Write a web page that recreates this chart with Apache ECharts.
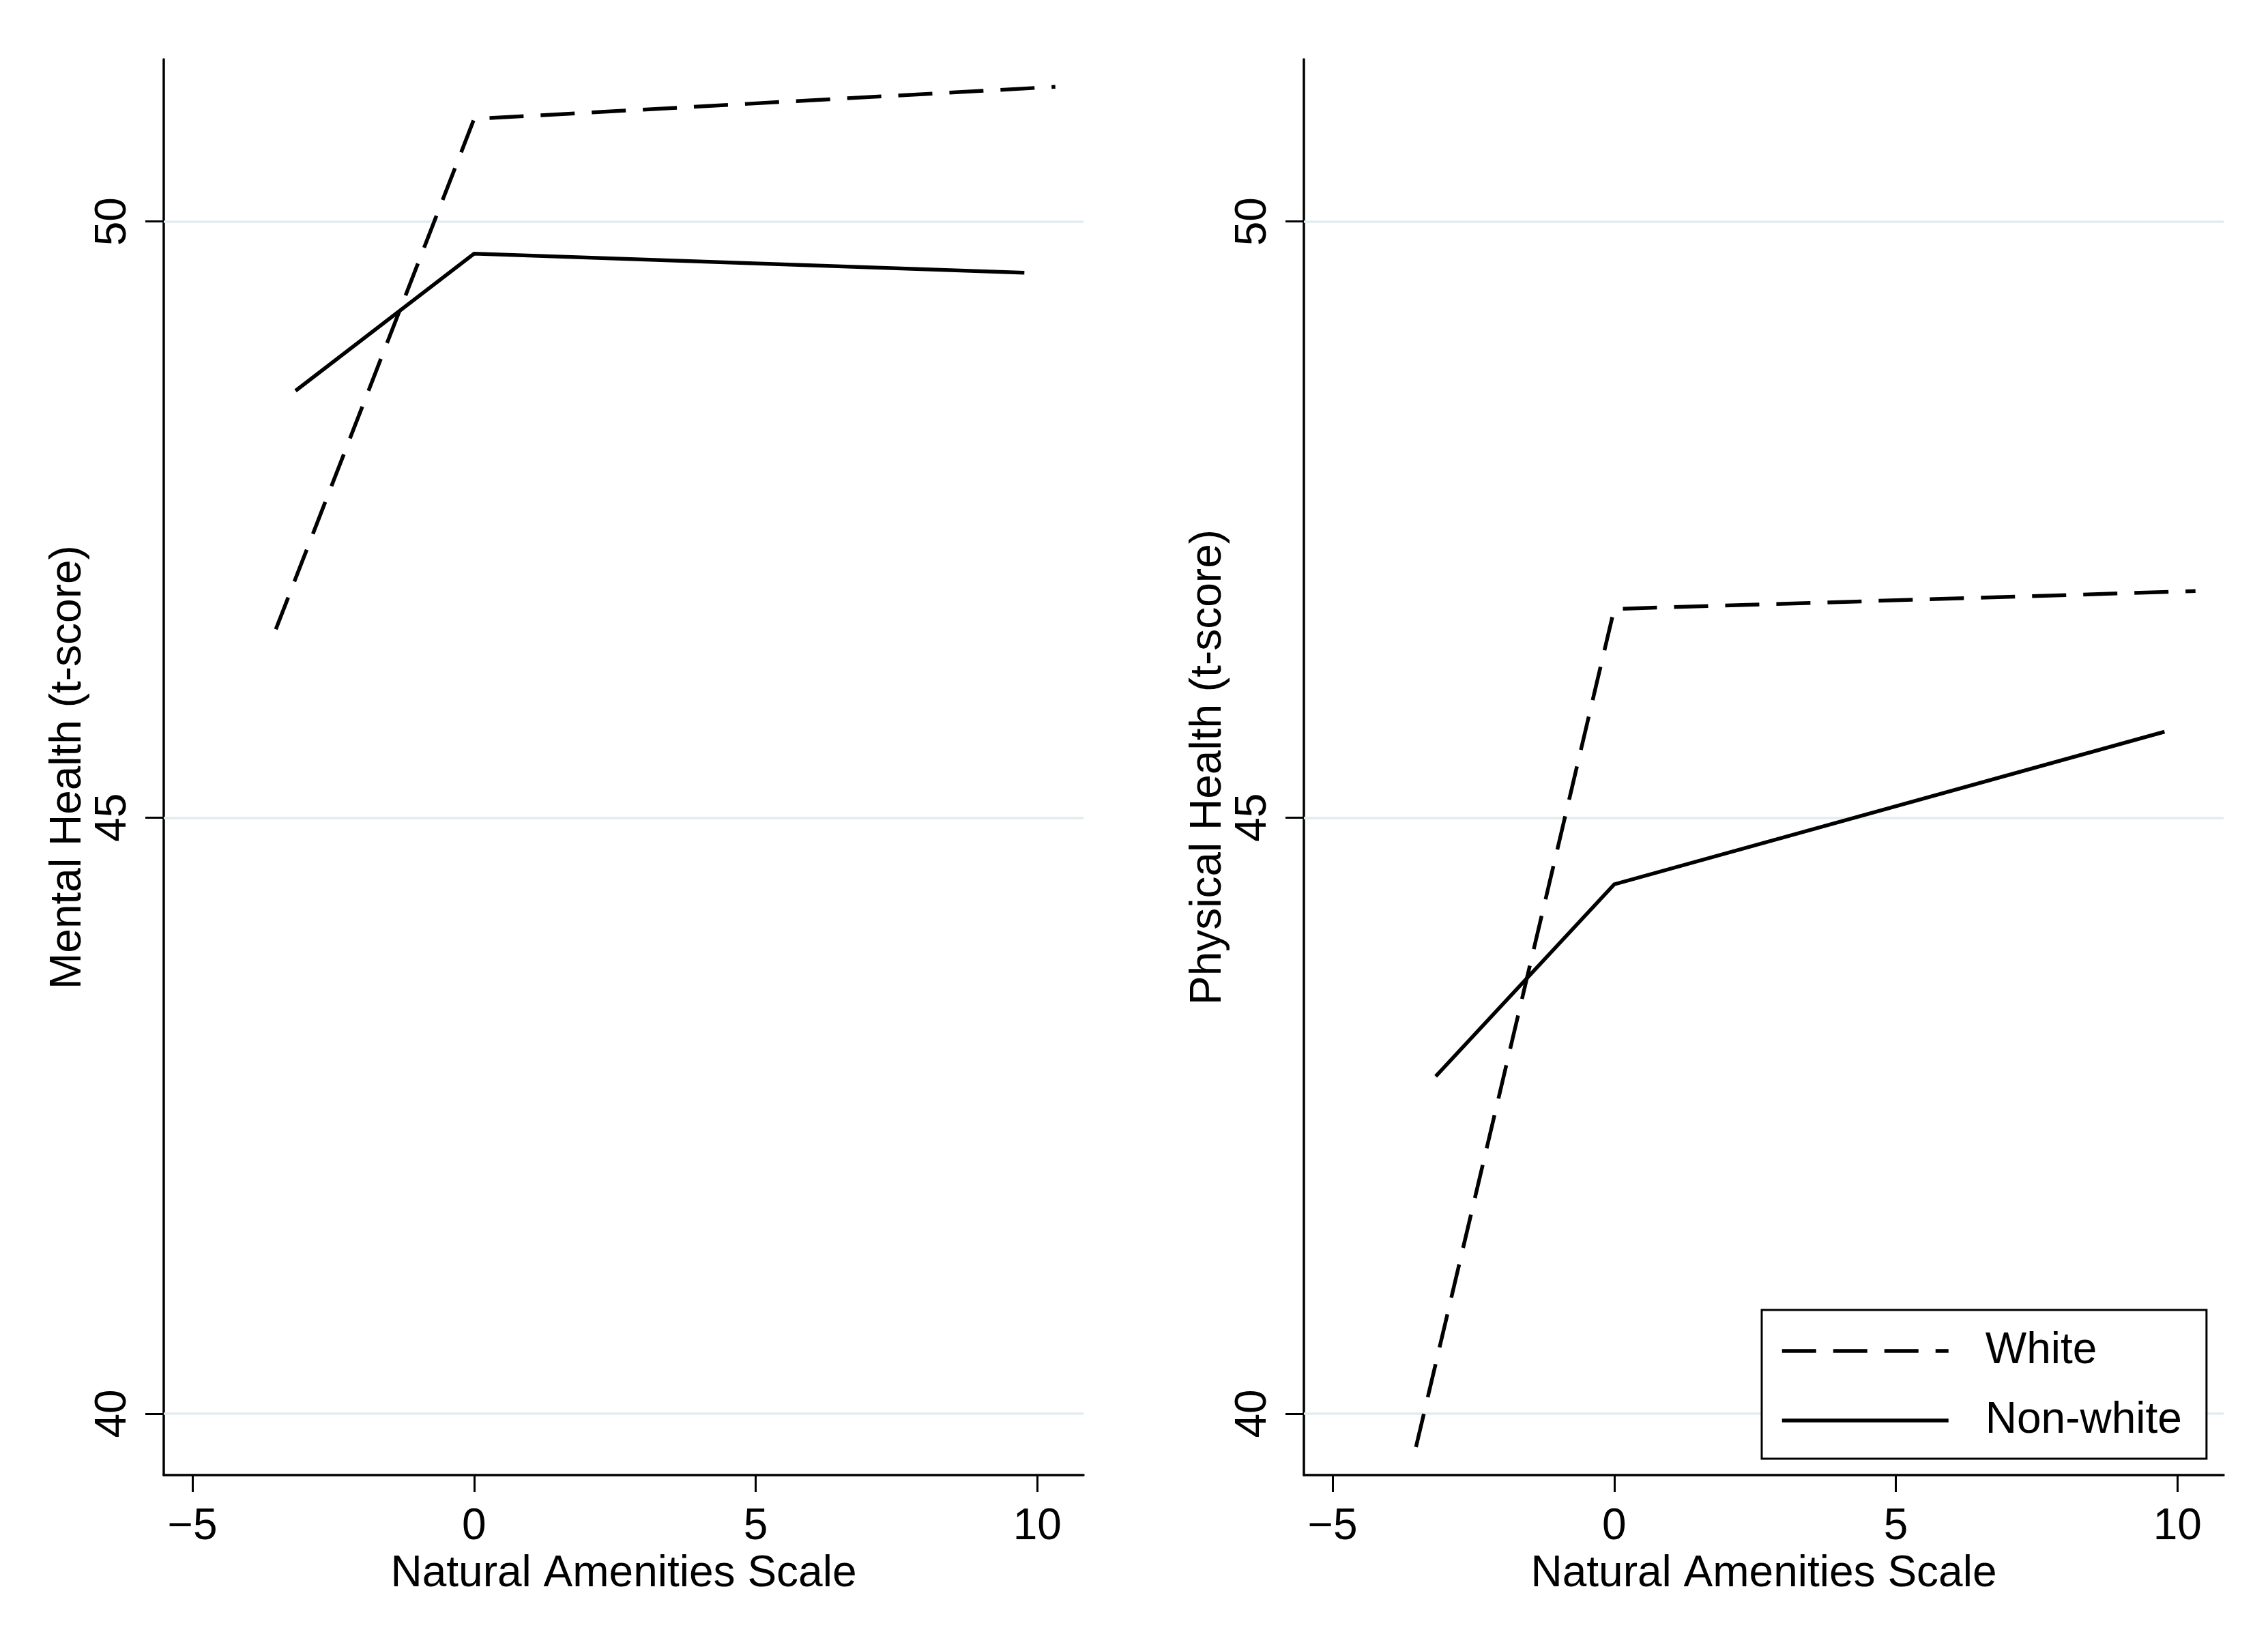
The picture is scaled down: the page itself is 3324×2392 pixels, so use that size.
<!DOCTYPE html>
<html><head><meta charset="utf-8">
<script src="https://cdn.jsdelivr.net/npm/echarts@6/dist/echarts.min.js"></script>
<style>html,body{margin:0;padding:0;background:#fff}#c{width:3324px;height:2392px}</style>
</head><body><div id="c"></div>
<script>
const seriesNames = ['White', 'Non-white'];
const whiteX = [-3.52, 0, 10.32];
const nonWhiteX = [-3.17, 0, 9.77];
const mentalWhite = [46.58, 50.86, 51.13];
const mentalNonWhite = [48.58, 49.73, 49.57];
const physicalWhite = [39.72, 46.75, 46.90];
const physicalNonWhite = [42.83, 44.44, 45.72];
const xTicks = [-5, 0, 5, 10];
const yTicks = [40, 45, 50];
const xTitle = 'Natural Amenities Scale';
const yTitles = ['Mental Health (t-score)', 'Physical Health (t-score)'];
const xRange = [-5.51, 10.82];
const yRange = [39.485, 51.36];

const FONT = 'Liberation Sans, Arial, sans-serif';
const FS = 64;
const LW = 5.5;
const pair = (xs, ys) => xs.map((x, i) => [x, ys[i]]);

function xAxis(idx) {
  return {
    type: 'value', gridIndex: idx, min: xRange[0], max: xRange[1],
    name: xTitle, nameLocation: 'middle', nameGap: 113,
    nameTextStyle: { fontFamily: FONT, fontSize: FS, color: '#000', lineHeight: FS },
    axisLine: { show: true, onZero: false, lineStyle: { color: '#000', width: 3.5 } },
    axisTick: { show: true, length: 25, lineStyle: { color: '#000', width: 3 }, customValues: xTicks },
    axisLabel: { fontFamily: FONT, fontSize: FS, color: '#000', margin: 44, lineHeight: FS, customValues: xTicks,
      formatter: v => (v < 0 ? '\u2212' + Math.abs(v) : String(v)) },
    splitLine: { show: false }
  };
}
function yAxis(idx) {
  return {
    type: 'value', gridIndex: idx, min: yRange[0], max: yRange[1],
    name: yTitles[idx], nameLocation: 'middle', nameGap: 108,
    nameTextStyle: { fontFamily: FONT, fontSize: FS, color: '#000', lineHeight: FS },
    axisLine: { show: true, onZero: false, lineStyle: { color: '#000', width: 3.5 } },
    axisTick: { show: true, length: 27, lineStyle: { color: '#000', width: 3 }, customValues: yTicks },
    axisLabel: { fontFamily: FONT, fontSize: FS, color: '#000', margin: 42, rotate: 90, lineHeight: FS, customValues: yTicks },
    splitLine: { show: false }
  };
}
function gridLines() {
  return {
    silent: true, symbol: 'none', label: { show: false },
    lineStyle: { color: '#e2ecef', width: 3.5, type: 'solid' },
    data: yTicks.map(v => ({ yAxis: v }))
  };
}
function lineSeries(name, data, idx, dashed, withGrid) {
  const s = {
    type: 'line', name, data, xAxisIndex: idx, yAxisIndex: idx,
    showSymbol: false, symbol: 'none', animation: false,
    lineStyle: { color: '#000', width: LW, type: dashed ? [50, 25] : 'solid', cap: 'butt', join: 'miter' },
    itemStyle: { color: '#000' }, z: 3
  };
  if (withGrid) { s.markLine = gridLines(); s.markLine.z = 1; }
  return s;
}

const chart = echarts.init(document.getElementById('c'));
chart.setOption({
  backgroundColor: '#fff',
  animation: false,
  grid: [
    { left: 240, top: 87, width: 1348, height: 2075 },
    { left: 1911, top: 87, width: 1348, height: 2075 }
  ],
  xAxis: [xAxis(0), xAxis(1)],
  yAxis: [yAxis(0), yAxis(1)],
  legend: {
    data: seriesNames, orient: 'vertical', left: 2582, top: 1920,
    itemWidth: 244, itemHeight: 12, itemGap: 32,
    padding: [25, 36, 21, 27],
    borderColor: '#000', borderWidth: 3, backgroundColor: '#fff',
    itemStyle: { color: 'rgba(0,0,0,0)', borderWidth: 0, opacity: 0 },
    lineStyle: { width: LW, color: '#000' },
    textStyle: { fontFamily: FONT, fontSize: FS, color: '#000', lineHeight: 70, padding: [0, 0, 0, 49] },
    selectedMode: false
  },
  series: [
    lineSeries(seriesNames[0], pair(whiteX, mentalWhite), 0, true, true),
    lineSeries(seriesNames[1], pair(nonWhiteX, mentalNonWhite), 0, false, false),
    lineSeries(seriesNames[0], pair(whiteX, physicalWhite), 1, true, true),
    lineSeries(seriesNames[1], pair(nonWhiteX, physicalNonWhite), 1, false, false)
  ]
});
</script>
</body></html>
